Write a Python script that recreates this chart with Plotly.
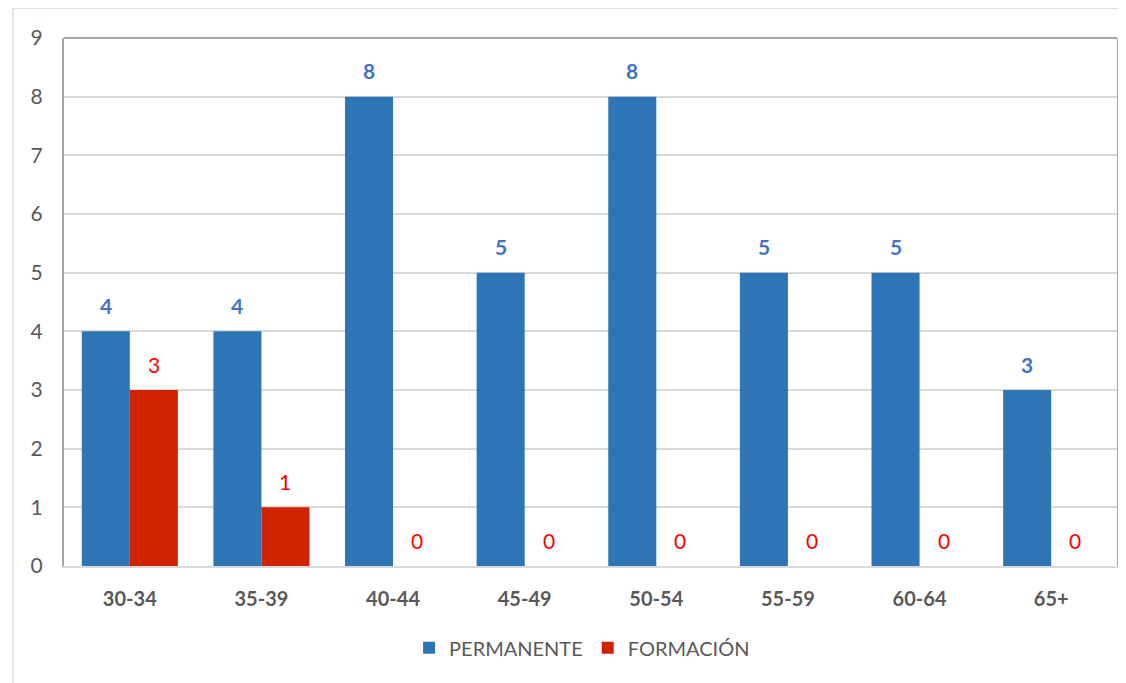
import plotly.graph_objects as go

categories = ["30-34", "35-39", "40-44", "45-49", "50-54", "55-59", "60-64", "65+"]
permanente = [4, 4, 8, 5, 8, 5, 5, 3]
formacion = [3, 1, 0, 0, 0, 0, 0, 0]
y_ticks = [0, 1, 2, 3, 4, 5, 6, 7, 8, 9]

BLUE = "#2E75B6"
RED = "#D12200"
FONT = "Lato, 'Open Sans', sans-serif"

fig = go.Figure()
fig.add_trace(go.Bar(x=categories, y=permanente, name="PERMANENTE",
                     marker=dict(color=BLUE, line=dict(width=0))))
fig.add_trace(go.Bar(x=categories, y=formacion, name="FORMACIÓN",
                     marker=dict(color=RED, line=dict(width=0))))

annotations = []
for c, v in zip(categories, permanente):
    annotations.append(dict(x=c, y=v, xref="x", yref="y", text=str(v), showarrow=False,
                            xshift=-24, yshift=26, font=dict(family=FONT, size=21, color="#4472C4", weight="bold")))
for c, v in zip(categories, formacion):
    annotations.append(dict(x=c, y=v, xref="x", yref="y", text=str(v), showarrow=False,
                            xshift=24, yshift=26, font=dict(family=FONT, size=21, color="#FF0000")))

# page body has an 8px default margin; compensate in the figure margins
fig.update_layout(
    width=1126, height=683,
    margin=dict(l=56, r=17, t=30, b=125),
    paper_bgcolor="white", plot_bgcolor="white",
    barmode="group", bargap=0.27, bargroupgap=0,
    font=dict(family=FONT, color="#595959", size=20),
    showlegend=True,
    legend=dict(orientation="h", x=0.492, xanchor="center", y=-0.155, yanchor="middle",
                font=dict(size=20, color="#595959"), itemwidth=30, traceorder="normal"),
    annotations=annotations,
    shapes=[
        dict(type="rect", xref="paper", yref="paper", x0=-0.0484, x1=1.2, y0=-0.5, y1=1.0568,
             line=dict(color="#D9D9D9", width=1.5), layer="below"),
        dict(type="line", xref="paper", yref="paper", x0=0, x1=1, y0=1, y1=1,
             line=dict(color="#A6A6A6", width=2)),
    ],
)
fig.update_yaxes(range=[0, 9], tickvals=y_ticks, showgrid=True, gridcolor="#D9D9D9", gridwidth=1.5,
                 showline=True, mirror=True, linecolor="#A6A6A6", linewidth=2,
                 zeroline=False, ticks="", ticklabelstandoff=15, automargin=False,
                 tickfont=dict(size=21, color="#595959"))
fig.update_xaxes(showline=True, linecolor="#D9D9D9", linewidth=2, ticks="",
                 ticklabelstandoff=14, automargin=False,
                 tickfont=dict(size=20, color="#595959", weight="bold"))

fig.write_html("out.html")
